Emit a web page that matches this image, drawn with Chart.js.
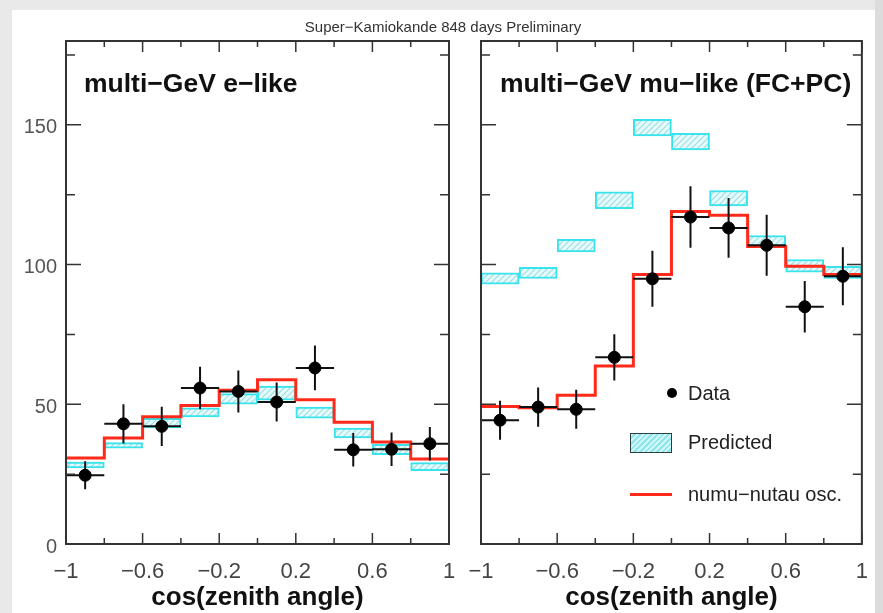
<!DOCTYPE html>
<html>
<head>
<meta charset="utf-8">
<script src="https://cdn.jsdelivr.net/npm/chart.js@4.4.1/dist/chart.umd.min.js"></script>
<style>
  html, body { margin:0; padding:0; background:#fff; }
  body { width:883px; height:613px; overflow:hidden; position:relative; font-family:"Liberation Sans", Arial, sans-serif; }
  canvas { position:absolute; left:0; top:0; }
  .edge { position:absolute; background:#e9e9e9; }
  #title { position:absolute; left:0; width:886px; top:18px; text-align:center; font-family:"Liberation Sans", Arial, sans-serif; font-size:15px; color:#333; }
  .plabel { position:absolute; font-family:"Liberation Sans", Arial, sans-serif; font-weight:bold; font-size:26.5px; color:#111; white-space:nowrap; line-height:30px; }
  .leg { position:absolute; font-family:"Liberation Sans", Arial, sans-serif; font-size:20px; color:#222; white-space:nowrap; line-height:24px; }
  #legDot { position:absolute; left:667px; top:388px; width:10px; height:10px; border-radius:50%; background:#000; }
  #legBox { position:absolute; left:630px; top:433px; width:40px; height:18px; border:1.5px solid #2f3d3d;
            background: repeating-linear-gradient(135deg, #cdf6f8 0px, #cdf6f8 2px, #8ee6ec 2px, #8ee6ec 4px); }
  #legLine { position:absolute; left:630px; top:493px; width:42px; height:3px; background:#ff2a1a; }
</style>
</head>
<body>
<div class="edge" style="left:0;top:0;width:883px;height:10px;"></div>
<div class="edge" style="left:0;top:0;width:12px;height:613px;"></div>
<div class="edge" style="left:875px;top:0;width:8px;height:613px;background:#dcdcdc;"></div>
<canvas id="cL" width="883" height="613"></canvas>
<canvas id="cR" width="883" height="613"></canvas>
<div id="title">Super−Kamiokande 848 days Preliminary</div>
<div class="plabel" style="left:84px;top:68px;">multi−GeV e−like</div>
<div class="plabel" style="left:500px;top:68px;">multi−GeV mu−like (FC+PC)</div>
<div id="legDot"></div><div class="leg" style="left:688px;top:381px;">Data</div>
<div id="legBox"></div><div class="leg" style="left:688px;top:430px;">Predicted</div>
<div id="legLine"></div><div class="leg" style="left:688px;top:482px;">numu−nutau osc.</div>
<script>
// ---------------- data ----------------
const binEdges = [-1, -0.8, -0.6, -0.4, -0.2, 0, 0.2, 0.4, 0.6, 0.8, 1];
const xTickValues = [-1, -0.6, -0.2, 0.2, 0.6, 1];
const xTickLabels = ['−1', '−0.6', '−0.2', '0.2', '0.6', '1'];
const xMinorTicks = [-0.8, -0.4, 0, 0.4, 0.8];
const yTickValues = [0, 50, 100, 150];
const yTickLabels = ['0', '50', '100', '150'];
const yMinorTicks = [25, 75, 125, 175];

// multi-GeV e-like
const eData    = [24.6, 43.0, 42.1, 55.8, 54.6, 50.8, 63.0, 33.7, 33.9, 35.9];
const eErr     = [5.0, 7.0, 7.0, 7.6, 7.5, 7.0, 8.0, 6.0, 6.0, 6.0];
const ePredLo  = [27.2, 34.3, 41.5, 45.5, 50.0, 51.5, 45.0, 38.0, 32.0, 26.2];
const ePredHi  = [29.3, 36.3, 45.0, 48.7, 53.8, 56.5, 49.0, 41.5, 35.7, 29.1];
const eOsc     = [30.8, 37.9, 45.5, 49.6, 55.0, 58.8, 51.6, 43.6, 36.5, 30.4];

// multi-GeV mu-like (FC+PC)
const muData   = [44.3, 49.0, 48.2, 66.8, 94.9, 117.0, 113.1, 106.9, 84.9, 95.8];
const muErr    = [7.0, 7.0, 7.0, 8.3, 10.0, 11.0, 10.7, 10.9, 9.2, 10.4];
const muPredLo = [93.0, 95.0, 104.5, 120.0, 146.0, 141.0, 121.0, 106.0, 97.3, 95.0];
const muPredHi = [97.0, 99.0, 109.0, 126.0, 152.0, 147.0, 126.5, 110.4, 101.8, 99.4];
const muOsc    = [49.2, 48.8, 53.2, 63.7, 96.4, 119.0, 117.6, 106.5, 99.4, 96.4];

// ---------------- helpers ----------------
const binNames = binEdges.slice(0, -1).map((e, i) => e + '..' + binEdges[i + 1]);
const binCenters = binEdges.slice(0, -1).map((e, i) => (e + binEdges[i + 1]) / 2);

function hatchPattern() {
  const c = document.createElement('canvas');
  c.width = 6; c.height = 6;
  const g = c.getContext('2d');
  g.fillStyle = '#e6fbfc'; g.fillRect(0, 0, 6, 6);
  g.strokeStyle = '#9fdde3'; g.lineWidth = 1.2;
  g.beginPath();
  g.moveTo(0, 6); g.lineTo(6, 0);
  g.moveTo(-1, 1); g.lineTo(1, -1);
  g.moveTo(5, 7); g.lineTo(7, 5);
  g.stroke();
  return g.createPattern(c, 'repeat');
}

function stepPoints(vals) {
  const pts = vals.map((v, i) => ({ x: binEdges[i], y: v }));
  pts.push({ x: binEdges[binEdges.length - 1], y: vals[vals.length - 1] });
  return pts;
}
function vErrPoints(vals, errs) {
  const pts = [];
  vals.forEach((v, i) => {
    pts.push({ x: binCenters[i], y: v - errs[i] }, { x: binCenters[i], y: v + errs[i] }, { x: binCenters[i], y: null });
  });
  return pts;
}
function hErrPoints(vals) {
  const pts = [];
  vals.forEach((v, i) => {
    pts.push({ x: binEdges[i], y: v }, { x: binEdges[i + 1], y: v }, { x: binEdges[i + 1], y: null });
  });
  return pts;
}

const framePlugin = {
  id: 'frameTicks',
  afterDatasetsDraw(chart) {
    const { ctx, chartArea: a, scales } = chart;
    const xs = scales.x, ys = scales.y;
    ctx.save();
    ctx.strokeStyle = '#333';
    ctx.lineWidth = 1.5;
    ctx.beginPath();
    const tick = (vals, len, horiz) => {
      vals.forEach(v => {
        if (horiz) {
          const p = xs.getPixelForValue(v);
          ctx.moveTo(p, a.bottom); ctx.lineTo(p, a.bottom - len);
          ctx.moveTo(p, a.top); ctx.lineTo(p, a.top + len);
        } else {
          const p = ys.getPixelForValue(v);
          ctx.moveTo(a.left, p); ctx.lineTo(a.left + len, p);
          ctx.moveTo(a.right, p); ctx.lineTo(a.right - len, p);
        }
      });
    };
    tick(xTickValues, 11, true);
    tick(xMinorTicks, 6, true);
    tick(yTickValues, 15, false);
    tick(yMinorTicks, 9, false);
    ctx.stroke();
    ctx.lineWidth = 2;
    ctx.strokeRect(a.left, a.top, a.right - a.left, a.bottom - a.top);
    ctx.restore();
  }
};

function makeChart(id, d, showY, padding) {
  const pattern = hatchPattern();
  return new Chart(document.getElementById(id), {
    type: 'line',
    data: {
      labels: binNames,
      datasets: [
        {
          type: 'bar', xAxisID: 'xb', yAxisID: 'y', order: 4, grouped: false,
          data: d.lo.map((lo, i) => [lo, d.hi[i]]),
          backgroundColor: pattern, borderColor: '#38e3ec', borderWidth: 2,
          borderSkipped: false, barPercentage: 1, categoryPercentage: 1
        },
        {
          type: 'line', order: 3, data: stepPoints(d.osc), stepped: true,
          borderColor: '#ff2a1a', borderWidth: 3, pointRadius: 0, fill: false
        },
        {
          type: 'line', order: 2, data: vErrPoints(d.data, d.err), spanGaps: false,
          borderColor: '#111', borderWidth: 2, pointRadius: 0, fill: false
        },
        {
          type: 'line', order: 2, data: hErrPoints(d.data), spanGaps: false,
          borderColor: '#111', borderWidth: 2, pointRadius: 0, fill: false
        },
        {
          type: 'scatter', order: 1,
          data: d.data.map((v, i) => ({ x: binCenters[i], y: v })),
          pointRadius: 6, pointBackgroundColor: '#000', pointBorderColor: '#000', showLine: false
        }
      ]
    },
    options: {
      responsive: false, animation: false, devicePixelRatio: 1, events: [],
      layout: { padding: padding },
      plugins: { legend: { display: false }, tooltip: { enabled: false }, title: { display: false } },
      scales: {
        x: {
          type: 'linear', position: 'bottom', min: -1, max: 1,
          afterBuildTicks: s => { s.ticks = xTickValues.map(v => ({ value: v })); },
          afterFit: s => { s.height = 69; },
          ticks: {
            autoSkip: false, maxRotation: 0, padding: 15, color: '#444',
            font: { family: '"Liberation Sans", Arial, sans-serif', size: 22 },
            callback: (v) => { const i = xTickValues.indexOf(v); return i >= 0 ? xTickLabels[i] : ''; }
          },
          grid: { display: false, drawTicks: false },
          border: { display: false },
          title: {
            display: true, text: 'cos(zenith angle)', color: '#111',
            font: { family: '"Liberation Sans", Arial, sans-serif', size: 26, weight: 'bold' },
            padding: { top: 0, bottom: 0 }
          }
        },
        xb: { type: 'category', labels: binNames, offset: true, display: false },
        y: {
          type: 'linear', min: 0, max: 180, display: showY,
          afterBuildTicks: s => { s.ticks = yTickValues.map(v => ({ value: v })); },
          afterFit: s => { s.width = showY ? 66 : 0; },
          ticks: {
            autoSkip: false, padding: 9, color: '#555', labelOffset: 3,
            font: { family: '"Liberation Sans", Arial, sans-serif', size: 20 },
            callback: (v) => { const i = yTickValues.indexOf(v); return i >= 0 ? yTickLabels[i] : ''; }
          },
          grid: { display: false, drawTicks: false },
          border: { display: false }
        }
      }
    },
    plugins: [framePlugin]
  });
}

makeChart('cL', { data: eData, err: eErr, lo: ePredLo, hi: ePredHi, osc: eOsc }, true,
  { left: 0, top: 41, right: 883 - 449, bottom: 0 });
makeChart('cR', { data: muData, err: muErr, lo: muPredLo, hi: muPredHi, osc: muOsc }, false,
  { left: 481, top: 41, right: 883 - 863, bottom: 0 });
</script>
</body>
</html>
